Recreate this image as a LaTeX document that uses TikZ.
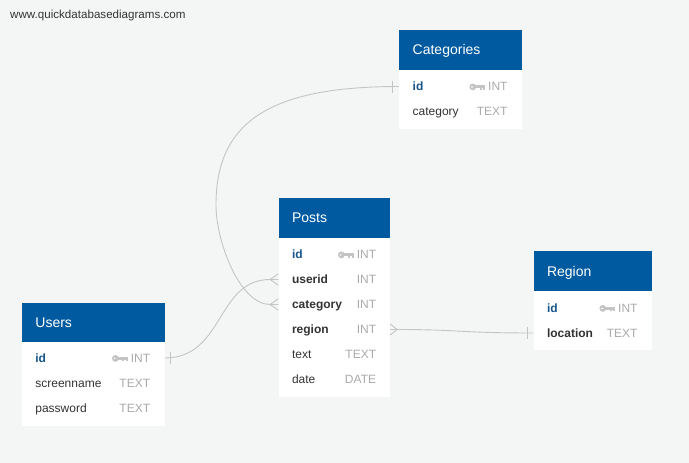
\documentclass[tikz,border=0pt]{standalone}
\usepackage{fontspec}
\setmainfont{Liberation Sans}
\usetikzlibrary{calc}
\definecolor{bg}{RGB}{244,246,246}
\definecolor{hdrblue}{RGB}{0,90,160}
\definecolor{idblue}{RGB}{22,86,140}
\definecolor{fieldgray}{RGB}{51,51,51}
\definecolor{typegray}{RGB}{170,170,170}
\definecolor{keygray}{RGB}{196,196,196}
\definecolor{linegray}{RGB}{196,196,196}
\begin{document}
\begin{tikzpicture}[x=1pt,y=-1pt,
  hdr/.style={fill=hdrblue, draw=none, anchor=north west, inner sep=0pt},
  tbody/.style={fill=white, draw=none, anchor=north west, inner sep=0pt},
  rowbox/.style={draw=none, inner sep=0pt, minimum height=25pt},
  ttl/.style={text=white, font=\fontsize{14}{16}\selectfont, anchor=base west, inner sep=0pt},
  fld/.style={text=fieldgray, font=\fontsize{12}{14}\selectfont, anchor=base west, inner sep=0pt},
  pk/.style={text=idblue, font=\fontsize{12}{14}\selectfont\bfseries, anchor=base west, inner sep=0pt},
  fk/.style={text=fieldgray, font=\fontsize{12}{14}\selectfont\bfseries, anchor=base west, inner sep=0pt},
  typ/.style={text=typegray, font=\fontsize{12}{14}\selectfont, anchor=base east, inner sep=0pt},
  conn/.style={draw=linegray, line width=0.9pt},
  keyicon/.pic={
    \fill[keygray] (3.4,0.4) circle (3.4pt);
    \fill[white] (2.6,0.4) circle (0.9pt);
    \fill[keygray] (5,-1.2) rectangle (16,1.8);
    \fill[keygray] (10.3,1.8) rectangle (12.2,3.4);
    \fill[keygray] (13.6,1.8) rectangle (16,3.4);
  }
]
% background
\fill[bg] (0,0) rectangle (689,463);
\useasboundingbox (0,0) rectangle (689,463);

\node[fld, font=\fontsize{11.6}{13}\selectfont] (wm) at (10,19) {www.quickdatabasediagrams.com};

% ---------- Categories ----------
\node[hdr, minimum width=122.7pt, minimum height=39.3pt] (cat) at (399,30) {};
\node[tbody, minimum width=122.7pt, minimum height=59.7pt] (cat-body) at (399,69.3) {};
\node[ttl] (cat-title) at (412.5,54.7) {Categories};
\node[rowbox, minimum width=122.7pt] (cat-id) at (460.35,86.5) {};
\node[rowbox, minimum width=122.7pt] (cat-category) at (460.35,111.5) {};
\node[pk] (cat-id-n) at (412.5,90.8) {id};
\pic at (469.4,86.5) {keyicon};
\node[typ] (cat-id-t) at (507.7,90.8) {INT};
\node[fld] (cat-category-n) at (412.5,115.8) {category};
\node[typ] (cat-category-t) at (507.7,115.8) {TEXT};

% ---------- Posts ----------
\node[hdr, minimum width=111.7pt, minimum height=39.6pt] (posts) at (278.3,197.7) {};
\node[tbody, minimum width=111.7pt, minimum height=159.4pt] (posts-body) at (278.3,237.3) {};
\node[ttl] (posts-title) at (291.8,222.7) {Posts};
\node[rowbox, minimum width=111.7pt] (posts-id) at (334.15,254.5) {};
\node[rowbox, minimum width=111.7pt] (posts-userid) at (334.15,279.5) {};
\node[rowbox, minimum width=111.7pt] (posts-category) at (334.15,304.5) {};
\node[rowbox, minimum width=111.7pt] (posts-region) at (334.15,329.5) {};
\node[rowbox, minimum width=111.7pt] (posts-text) at (334.15,354.5) {};
\node[rowbox, minimum width=111.7pt] (posts-date) at (334.15,379.5) {};
\node[pk] (posts-id-n) at (291.8,258.8) {id};
\pic at (338,254.5) {keyicon};
\node[typ] (posts-id-t) at (376.3,258.8) {INT};
\node[fk] (posts-userid-n) at (291.8,283.8) {userid};
\node[typ] (posts-userid-t) at (376.3,283.8) {INT};
\node[fk] (posts-category-n) at (291.8,308.8) {category};
\node[typ] (posts-category-t) at (376.3,308.8) {INT};
\node[fk] (posts-region-n) at (291.8,333.8) {region};
\node[typ] (posts-region-t) at (376.3,333.8) {INT};
\node[fld] (posts-text-n) at (291.8,358.8) {text};
\node[typ] (posts-text-t) at (376.3,358.8) {TEXT};
\node[fld] (posts-date-n) at (291.8,383.8) {date};
\node[typ] (posts-date-t) at (376.3,383.8) {DATE};

% ---------- Users ----------
\node[hdr, minimum width=142.6pt, minimum height=39.4pt] (users) at (21.7,302.3) {};
\node[tbody, minimum width=142.6pt, minimum height=84.3pt] (users-body) at (21.7,341.7) {};
\node[ttl] (users-title) at (35.2,327.2) {Users};
\node[rowbox, minimum width=142.6pt] (users-id) at (93,358) {};
\node[rowbox, minimum width=142.6pt] (users-screenname) at (93,383) {};
\node[rowbox, minimum width=142.6pt] (users-password) at (93,408) {};
\node[pk] (users-id-n) at (35.2,362.3) {id};
\pic at (112,358) {keyicon};
\node[typ] (users-id-t) at (150.3,362.3) {INT};
\node[fld] (users-screenname-n) at (35.2,387.3) {screenname};
\node[typ] (users-screenname-t) at (150.3,387.3) {TEXT};
\node[fld] (users-password-n) at (35.2,412.3) {password};
\node[typ] (users-password-t) at (150.3,412.3) {TEXT};

% ---------- Region ----------
\node[hdr, minimum width=118.4pt, minimum height=39.7pt] (region) at (533.3,251) {};
\node[tbody, minimum width=118.4pt, minimum height=59.3pt] (region-body) at (533.3,290.7) {};
\node[ttl] (region-title) at (546.8,276) {Region};
\node[rowbox, minimum width=118.4pt] (region-id) at (592.5,308) {};
\node[rowbox, minimum width=118.4pt] (region-location) at (592.5,333) {};
\node[pk] (region-id-n) at (546.8,312.3) {id};
\pic at (599.4,308) {keyicon};
\node[typ] (region-id-t) at (637.7,312.3) {INT};
\node[fk] (region-location-n) at (546.8,337.3) {location};
\node[typ] (region-location-t) at (637.7,337.3) {TEXT};

% ---------- Connectors ----------
% Users.id -> Posts.userid
\draw[conn] (users-id.east) .. controls ++(60,0) and ($(posts-userid.west)+(-62,0)$) .. ($(posts-userid.west)+(-8,0)$) -- (posts-userid.west);
\draw[conn] ($(users-id.east)+(6,-6)$) -- ($(users-id.east)+(6,6)$);
\draw[conn] ($(posts-userid.west)+(-8,0)$) -- ($(posts-userid.west)+(0,-5.5)$);
\draw[conn] ($(posts-userid.west)+(-8,0)$) -- ($(posts-userid.west)+(0,5.5)$);

% Categories.id -> Posts.category
\draw[conn] (cat-id.west) .. controls (268,86.5) and (216,123) .. (216,205)
  .. controls (216,242) and (240,304.5) .. ($(posts-category.west)+(-8,0)$) -- (posts-category.west);
\draw[conn] ($(cat-id.west)+(-6,-6)$) -- ($(cat-id.west)+(-6,6)$);
\draw[conn] ($(posts-category.west)+(-8,0)$) -- ($(posts-category.west)+(0,-5.5)$);
\draw[conn] ($(posts-category.west)+(-8,0)$) -- ($(posts-category.west)+(0,5.5)$);

% Posts.region -> Region.location
\draw[conn] (posts-region.east) -- ($(posts-region.east)+(7,0)$) .. controls (460,329.5) and (460,333) .. (region-location.west);
\draw[conn] ($(posts-region.east)+(7,0)$) -- ($(posts-region.east)+(0,-5.5)$);
\draw[conn] ($(posts-region.east)+(7,0)$) -- ($(posts-region.east)+(0,5.5)$);
\draw[conn] ($(region-location.west)+(-6,-6)$) -- ($(region-location.west)+(-6,6)$);
\end{tikzpicture}
\end{document}
